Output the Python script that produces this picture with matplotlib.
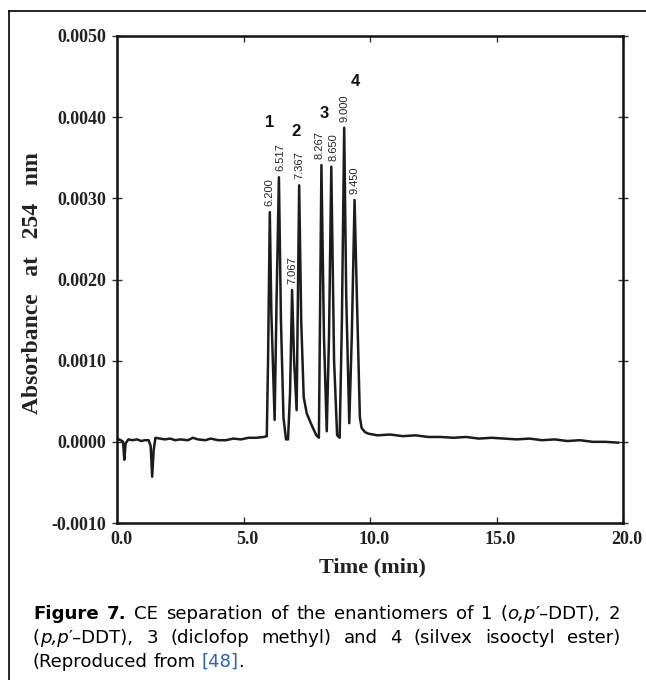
import matplotlib
matplotlib.use("Agg")
import matplotlib.pyplot as plt
from matplotlib.lines import Line2D
from matplotlib.ticker import FormatStrFormatter
import matplotlib.transforms as mtransforms

# ---------------- data ----------------
time_min = [0.00, 0.15, 0.24, 0.29, 0.34, 0.45, 0.60, 0.80, 0.95, 1.10, 1.25, 1.33, 1.39, 1.45,
            1.52, 1.70, 1.90, 2.10, 2.30, 2.50, 2.80, 3.00, 3.20, 3.50, 3.70, 4.00, 4.30, 4.60,
            4.90, 5.20, 5.50, 5.80, 5.92, 5.97, 6.04, 6.10, 6.23, 6.31, 6.40, 6.48, 6.58, 6.68,
            6.76, 6.84, 6.92, 7.00, 7.10, 7.20, 7.28, 7.38, 7.50, 7.70, 7.88, 7.98, 8.08, 8.18,
            8.29, 8.38, 8.47, 8.58, 8.70, 8.80, 8.89, 8.98, 9.06, 9.18, 9.28, 9.39, 9.48, 9.60,
            9.67, 9.80, 9.94, 10.30, 10.80, 11.30, 11.80, 12.30, 12.80, 13.30, 13.80, 14.30,
            14.80, 15.30, 15.80, 16.30, 16.80, 17.30, 17.80, 18.30, 18.80, 19.30, 19.80]
absorb_e3 = [0.04, 0.02, 0.00, -0.22, -0.02, 0.03, 0.02, 0.03, 0.01, 0.02, 0.02, -0.05, -0.43, -0.10,
             0.05, 0.04, 0.03, 0.04, 0.02, 0.03, 0.02, 0.05, 0.03, 0.02, 0.04, 0.02, 0.02, 0.04,
             0.03, 0.05, 0.05, 0.06, 0.07, 1.00, 2.83, 1.60, 0.27, 1.80, 3.26, 1.50, 0.30, 0.03,
             0.03, 0.60, 1.87, 1.00, 0.39, 3.16, 1.50, 0.55, 0.35, 0.20, 0.08, 0.05, 3.41, 1.30,
             0.13, 1.30, 3.39, 1.00, 0.08, 0.05, 1.50, 3.87, 1.80, 0.23, 1.30, 2.98, 1.80, 0.30,
             0.17, 0.12, 0.10, 0.08, 0.09, 0.07, 0.08, 0.06, 0.06, 0.05, 0.06, 0.04, 0.05, 0.04,
             0.03, 0.04, 0.02, 0.03, 0.01, 0.02, 0.00, 0.00, -0.01]
absorbance = [v * 1e-3 for v in absorb_e3]

peak_labels = ["6.200", "6.517", "7.067", "7.367", "8.267", "8.650", "9.000", "9.450"]
peak_time = [6.04, 6.40, 6.92, 7.20, 8.08, 8.47, 8.98, 9.39]
peak_height = [2.83e-3, 3.26e-3, 1.87e-3, 3.16e-3, 3.41e-3, 3.39e-3, 3.87e-3, 2.98e-3]

compound_ids = ["1", "2", "3", "4"]
compound_time = [6.04, 7.06, 8.21, 9.42]
compound_abs = [3.94e-3, 3.82e-3, 4.05e-3, 4.44e-3]

x_ticks = [0.0, 5.0, 10.0, 15.0, 20.0]
y_ticks = [-0.0010, 0.0000, 0.0010, 0.0020, 0.0030, 0.0040, 0.0050]

# ---------------- figure ----------------
W, H = 646, 680
fig = plt.figure(figsize=(W / 100, H / 100), dpi=100)
fig.patch.set_facecolor("white")

ax_l, ax_r, ax_t, ax_b = 117, 623, 36, 523
ax = fig.add_axes([ax_l / W, 1 - ax_b / H, (ax_r - ax_l) / W, (ax_b - ax_t) / H])

ax.plot(time_min, absorbance, color="#1c1c1c", lw=1.8, solid_joinstyle="round")
ax.set_xlim(0, 20)
ax.set_ylim(-0.001, 0.005)
ax.set_xticks(x_ticks)
ax.set_yticks(y_ticks)
ax.xaxis.set_major_formatter(FormatStrFormatter("%.1f"))
ax.yaxis.set_major_formatter(FormatStrFormatter("%.4f"))
for s in ax.spines.values():
    s.set_linewidth(1.8)
    s.set_color("#111111")

serif = {"family": "Liberation Serif", "weight": "bold"}
ax.tick_params(axis="both", which="both", direction="in", length=4, width=1.0,
               top=True, right=True, color="#333333")
ax.tick_params(axis="y", direction="inout", length=7, pad=4)
ax.tick_params(axis="x", pad=6)
for lab in ax.get_xticklabels() + ax.get_yticklabels():
    lab.set_fontfamily("Liberation Serif")
    lab.set_fontweight("bold")
    lab.set_fontsize(13)
    lab.set_color("#222222")
offset = mtransforms.ScaledTranslation(4 / 100, 0, fig.dpi_scale_trans)
for lab in ax.get_xticklabels():
    lab.set_transform(lab.get_transform() + offset)

fig.text(33 / W, 1 - 283 / H, "Absorbance   at   254   nm", rotation=90, ha="center", va="center",
         fontsize=17, color="#222222", **serif)
fig.text(372 / W, 1 - 567 / H, "Time (min)", ha="center", va="center",
         fontsize=16, color="#222222", **serif)

# peak retention-time labels (small horizontal nudges keep neighbours apart)
label_dx = [0, 1, 0, 0, -2, 2, 0, 0]
for lbl, t, h, dx in zip(peak_labels, peak_time, peak_height, label_dx):
    ax.annotate(lbl, xy=(t, h), xytext=(dx, 6), textcoords="offset pixels", rotation=90,
                ha="center", va="bottom", fontsize=8, family="Liberation Sans",
                color="#222222")
for cid, t, h in zip(compound_ids, compound_time, compound_abs):
    ax.text(t, h, cid, ha="center", va="center", fontsize=12, family="Liberation Sans",
            weight="bold", color="#111111")

# outer frame (left and top)
fig.add_artist(Line2D([9 / W, 9 / W], [0, 1 - 11 / H], transform=fig.transFigure,
                      color="black", lw=1.2))
fig.add_artist(Line2D([9 / W, 1], [1 - 11 / H, 1 - 11 / H], transform=fig.transFigure,
                      color="black", lw=1.2))

# ---------------- caption (justified) ----------------
cap_family = ["DejaVu Sans"]
cap_size = 13.1
blue = "#2a62b5"
N, B, I = "normal", "bold", "italic"
lines = [
    [[("Figure", B, N, "k")], [("7.", B, N, "k")], [("CE", N, N, "k")], [("separation", N, N, "k")],
     [("of", N, N, "k")], [("the", N, N, "k")], [("enantiomers", N, N, "k")], [("of", N, N, "k")],
     [("1", N, N, "k")], [("(", N, N, "k"), ("o,p", N, I, "k"), ("\u2032\u2013DDT),", N, N, "k")],
     [("2", N, N, "k")]],
    [[("(", N, N, "k"), ("p,p", N, I, "k"), ("\u2032\u2013DDT),", N, N, "k")], [("3", N, N, "k")],
     [("(diclofop", N, N, "k")], [("methyl)", N, N, "k")], [("and", N, N, "k")], [("4", N, N, "k")],
     [("(silvex", N, N, "k")], [("isooctyl", N, N, "k")], [("ester)", N, N, "k")]],
    [[("(Reproduced", N, N, "k")], [("from", N, N, "k")], [("[48]", N, N, blue), (".", N, N, "k")]],
]
baselines = [619, 643, 667]
x_left, x_right = 33, 620.5
justify = [True, True, False]

fig.canvas.draw()
renderer = fig.canvas.get_renderer()


def seg_width(txt, weight, style):
    t = fig.text(0, 0, txt, fontsize=cap_size, family=cap_family, weight=weight, style=style)
    w = t.get_window_extent(renderer).width
    t.remove()
    return w


space_w = seg_width("a a", N, N) - seg_width("aa", N, N)
for words, yb, just in zip(lines, baselines, justify):
    widths = [[seg_width(s, wt, st) for (s, wt, st, c) in word] for word in words]
    totals = [sum(w) for w in widths]
    if just and len(words) > 1:
        gap = (x_right - x_left - sum(totals)) / (len(words) - 1)
    else:
        gap = space_w
    x = x_left
    for word, ws in zip(words, widths):
        for (s, wt, st, c), w in zip(word, ws):
            fig.text(x / W, 1 - yb / H, s, fontsize=cap_size, family=cap_family, weight=wt,
                     style=st, color=c, ha="left", va="baseline")
            x += w
        x += gap

fig.savefig("out.png", dpi=100, facecolor="white")
